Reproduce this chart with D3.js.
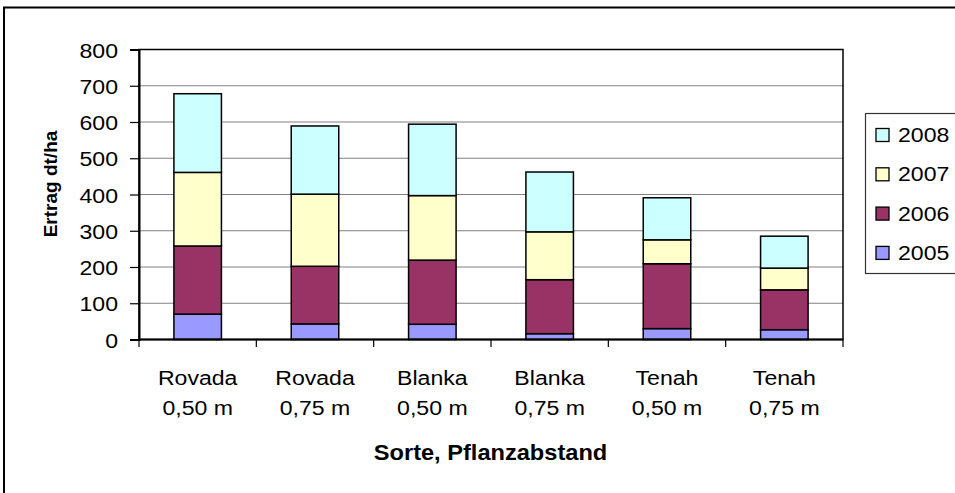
<!DOCTYPE html>
<html><head><meta charset="utf-8">
<script src="https://cdn.jsdelivr.net/npm/d3@7"></script>
<style>
html,body{margin:0;padding:0;background:#fff;}
svg{display:block;font-family:"Liberation Sans",Arial,sans-serif;}
</style></head>
<body><svg id="c" width="955" height="493"></svg>
<script>
const categories = [["Rovada","0,50 m"],["Rovada","0,75 m"],["Blanka","0,50 m"],["Blanka","0,75 m"],["Tenah","0,50 m"],["Tenah","0,75 m"]];
const years = ["2005","2006","2007","2008"];
const v2005 = [70, 43, 42, 16, 30, 27];
const v2006 = [188, 159, 177, 149, 179, 110];
const v2007 = [203, 199, 178, 132, 66, 60];
const v2008 = [217, 188, 197, 165, 116, 88];
const yTicks = [0,100,200,300,400,500,600,700,800];
const colors = ["#9999FF","#993366","#FFFFCC","#CCFFFF"];

const series = [v2005, v2006, v2007, v2008];
const rows = categories.map((c,i)=>{const o={key:i}; years.forEach((y,j)=>o[y]=series[j][i]); return o;});
const stacked = d3.stack().keys(years)(rows);

const svg = d3.select("#c");
const L=139, R=843, T=49.5, B=339.5, SX=1.1;

// outer border
svg.append("rect").attr("x",4).attr("y",7.5).attr("width",960).attr("height",500)
  .attr("fill","#fff").attr("stroke","#000").attr("stroke-width",2);

const x = d3.scaleBand().domain(d3.range(categories.length)).range([L,R]).paddingInner(0).paddingOuter(0);
const y = d3.scaleLinear().domain([0,800]).range([B,T]);
const bw = x.bandwidth()*0.405;

// gridlines
svg.append("g").selectAll("line").data(yTicks.filter(t=>t>0&&t<800)).join("line")
  .attr("x1",L).attr("x2",R).attr("y1",d=>y(d)).attr("y2",d=>y(d))
  .attr("stroke","#808080").attr("stroke-width",1.2);

// bars
svg.append("g").selectAll("g").data(stacked).join("g")
  .attr("fill",(d,i)=>colors[i])
  .selectAll("rect").data(d=>d).join("rect")
  .attr("x",(d,i)=>x(i)+x.bandwidth()/2-bw/2).attr("width",bw)
  .attr("y",d=>y(d[1])).attr("height",d=>y(d[0])-y(d[1]))
  .attr("stroke","#000").attr("stroke-width",1.5);

// plot border
svg.append("rect").attr("x",L).attr("y",T).attr("width",R-L).attr("height",B-T)
  .attr("fill","none").attr("stroke","#000").attr("stroke-width",1.5);

// y axis
const ya = svg.append("g").attr("transform",`translate(${L},0)`)
  .call(d3.axisLeft(y).tickValues(yTicks).tickSize(9).tickPadding(0).tickFormat(d3.format("d")));
ya.select(".domain").attr("stroke","#000").attr("stroke-width",2);
ya.selectAll(".tick line").attr("stroke","#000").attr("stroke-width",1.2);
ya.selectAll(".tick text").attr("font-size",21).attr("fill","#000")
  .attr("font-family","Liberation Sans, Arial, sans-serif")
  .attr("x",null).attr("dy",null).attr("text-anchor","end")
  .attr("transform",`translate(-21,7.5) scale(${SX},1)`);

// x axis ticks at category boundaries
const xa = svg.append("g").attr("transform",`translate(0,${B})`);
xa.append("line").attr("x1",L).attr("x2",R).attr("stroke","#000").attr("stroke-width",2);
xa.selectAll("line.t").data(d3.range(categories.length+1)).join("line").attr("class","t")
  .attr("x1",i=>L+i*x.step()).attr("x2",i=>L+i*x.step()).attr("y1",0).attr("y2",7.5)
  .attr("stroke","#000").attr("stroke-width",1.2);
const xl = xa.selectAll("g.lab").data(categories).join("g").attr("class","lab");
xl.each(function(c,i){
  const g=d3.select(this);
  c.forEach((s,k)=>{
    g.append("text").text(s).attr("font-size",21).attr("text-anchor","middle").attr("fill","#000")
      .attr("transform",`translate(${x(i)+x.bandwidth()/2},${45.5+k*30}) scale(${SX},1)`);
  });
});

// axis titles
svg.append("text").text("Sorte, Pflanzabstand").attr("font-size",22.5).attr("font-weight","bold")
  .attr("text-anchor","middle").attr("transform",`translate(490.5,460) scale(1.05,1)`);
svg.append("text").text("Ertrag dt/ha").attr("font-size",19).attr("font-weight","bold")
  .attr("text-anchor","middle").attr("transform","translate(57,184) rotate(-90)");

// legend
svg.append("rect").attr("x",865.5).attr("y",113.5).attr("width",120).attr("height",160)
  .attr("fill","#fff").attr("stroke","#333").attr("stroke-width",1.2);
const legOrder = [3,2,1,0];
const lg = svg.append("g").selectAll("g").data(legOrder).join("g")
  .attr("transform",(d,k)=>`translate(0,${142+k*39.3})`);
lg.append("rect").attr("x",876).attr("y",-13.5).attr("width",13).attr("height",13)
  .attr("fill",d=>colors[d]).attr("stroke","#000").attr("stroke-width",1.3);
lg.append("text").text(d=>years[d]).attr("font-size",21).attr("fill","#000")
  .attr("transform",`translate(898,0) scale(${SX},1)`);
</script></body></html>
